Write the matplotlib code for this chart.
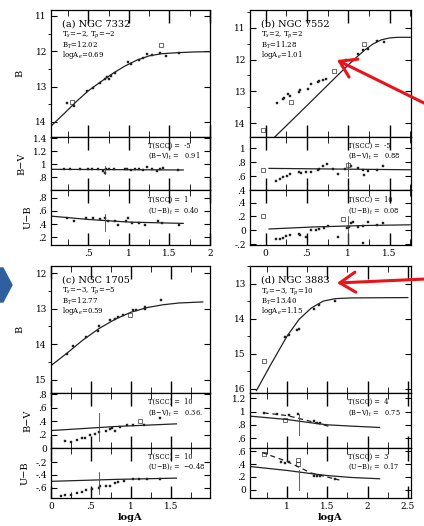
import matplotlib
matplotlib.use("Agg")
import matplotlib.pyplot as plt
from matplotlib.ticker import FuncFormatter, MultipleLocator
from matplotlib.patches import FancyArrowPatch, Polygon

W, H = 424, 526
plt.rcParams['font.family'] = 'DejaVu Serif'
plt.rcParams['mathtext.fontset'] = 'dejavuserif'

# ---------------- data ----------------
# (a) NGC 7332
a_B_x = [0.24, 0.32, 0.48, 0.56, 0.64, 0.71, 0.73, 0.75, 0.78, 0.83, 0.99, 1.02, 1.13, 1.17, 1.22, 1.28, 1.38, 1.46, 1.62]
a_B_y = [13.46, 13.54, 13.14, 13.03, 12.89, 12.78, 12.72, 12.8, 12.7, 12.63, 12.31, 12.35, 12.26, 12.2, 12.09, 12.1, 12.06, 12.14, 12.06]
a_B_open_x = [0.3, 1.4]
a_B_open_y = [13.45, 11.83]
a_fit_x = [0.05, 0.2, 0.35, 0.5, 0.65, 0.8, 0.95, 1.1, 1.25, 1.4, 1.6, 1.8, 2.0]
a_fit_y = [14.1, 13.77, 13.43, 13.12, 12.87, 12.63, 12.42, 12.25, 12.13, 12.07, 12.04, 12.02, 12.01]
a_BV_x = [0.2, 0.28, 0.4, 0.5, 0.55, 0.62, 0.68, 0.7, 0.72, 0.76, 0.82, 0.95, 0.98, 1.03, 1.08, 1.12, 1.18, 1.22, 1.28, 1.35, 1.38, 1.42, 1.6]
a_BV_y = [0.93, 0.93, 0.92, 0.93, 0.92, 0.92, 0.9, 0.87, 0.93, 0.92, 0.92, 0.92, 0.93, 0.91, 0.92, 0.93, 0.91, 0.95, 0.92, 0.9, 0.93, 0.94, 0.91]
a_BV_fit_x = [0.05, 1.67]
a_BV_fit_y = [0.92, 0.91]
a_UB_x = [0.24, 0.32, 0.47, 0.56, 0.64, 0.71, 0.74, 0.83, 0.86, 0.96, 0.99, 1.04, 1.12, 1.2, 1.36, 1.41, 1.62]
a_UB_y = [0.5, 0.44, 0.49, 0.49, 0.47, 0.5, 0.45, 0.45, 0.38, 0.45, 0.49, 0.41, 0.41, 0.38, 0.45, 0.41, 0.39]
a_UB_fit_x = [0.05, 0.5, 1.0, 1.67]
a_UB_fit_y = [0.52, 0.47, 0.43, 0.41]

# (b) NGC 7552
b_B_x = [0.14, 0.21, 0.22, 0.27, 0.3, 0.4, 0.42, 0.51, 0.55, 0.63, 0.65, 0.69, 0.73, 0.92, 0.99, 0.97, 1.06, 1.12, 1.18, 1.24, 1.35, 1.43]
b_B_y = [13.37, 13.25, 13.2, 13.1, 13.15, 13.02, 12.97, 12.94, 12.78, 12.72, 12.68, 12.65, 12.62, 12.19, 12.2, 12.0, 12.0, 11.84, 11.69, 11.67, 11.43, 11.46]
b_B_open_x = [-0.03, 0.31, 0.83, 1.19]
b_B_open_y = [14.21, 13.33, 12.36, 11.5]
b_fit_x = [0.11, 0.5, 0.8, 1.0, 1.1, 1.2, 1.3, 1.4, 1.5, 1.6, 1.75]
b_fit_y = [14.44, 13.45, 12.68, 12.17, 11.93, 11.7, 11.51, 11.38, 11.32, 11.3, 11.3]
b_BV_x = [0.13, 0.17, 0.21, 0.26, 0.3, 0.4, 0.43, 0.49, 0.55, 0.63, 0.64, 0.7, 0.74, 0.82, 0.87, 0.96, 1.03, 1.12, 1.18, 1.19, 1.24, 1.35, 1.42]
b_BV_y = [0.53, 0.56, 0.58, 0.6, 0.63, 0.66, 0.64, 0.66, 0.66, 0.69, 0.7, 0.75, 0.78, 0.7, 0.63, 0.7, 0.74, 0.71, 0.69, 0.61, 0.67, 0.69, 0.74]
b_BV_open_x = [-0.03, 1.0]
b_BV_open_y = [0.68, 0.76]
b_BV_fit_x = [0.04, 1.75]
b_BV_fit_y = [0.71, 0.69]
b_UB_x = [0.13, 0.17, 0.21, 0.25, 0.3, 0.4, 0.42, 0.49, 0.55, 0.61, 0.64, 0.71, 0.75, 0.87, 0.98, 1.01, 1.03, 1.06, 1.12, 1.18, 1.18, 1.24, 1.35, 1.42]
b_UB_y = [-0.13, -0.12, -0.11, -0.08, -0.07, -0.05, -0.06, -0.1, 0.0, 0.01, 0.02, 0.04, 0.06, -0.1, 0.03, 0.05, 0.11, 0.12, 0.05, 0.07, -0.18, 0.12, 0.08, 0.11]
b_UB_open_x = [-0.03, 0.94]
b_UB_open_y = [0.2, 0.16]
b_UB_fit_x = [0.04, 0.6, 1.2, 1.75]
b_UB_fit_y = [0.02, 0.05, 0.07, 0.08]

# (c) NGC 1705
c_B_x = [0.2, 0.28, 0.44, 0.59, 0.6, 0.74, 0.8, 0.84, 0.9, 1.03, 1.07, 1.18, 1.18, 1.38]
c_B_y = [14.26, 14.05, 13.79, 13.62, 13.49, 13.33, 13.3, 13.24, 13.17, 13.05, 13.03, 13.0, 12.95, 12.76]
c_B_open_x = [0.99]
c_B_open_y = [13.17]
c_fit_x = [0.0, 0.2, 0.4, 0.6, 0.8, 1.0, 1.2, 1.4, 1.6, 1.9]
c_fit_y = [14.6, 14.25, 13.88, 13.56, 13.3, 13.1, 12.97, 12.89, 12.84, 12.81]
c_BV_x = [0.18, 0.25, 0.32, 0.39, 0.43, 0.49, 0.55, 0.6, 0.69, 0.74, 0.76, 0.8, 0.86, 0.95, 1.03, 1.16, 1.37]
c_BV_y = [0.1, 0.09, 0.12, 0.15, 0.15, 0.19, 0.21, 0.24, 0.25, 0.29, 0.3, 0.26, 0.32, 0.34, 0.35, 0.35, 0.45]
c_BV_open_x = [1.11]
c_BV_open_y = [0.4]
c_BV_fit_x = [0.0, 0.8, 1.57]
c_BV_fit_y = [0.26, 0.32, 0.36]
c_UB_x = [0.12, 0.18, 0.25, 0.32, 0.39, 0.44, 0.51, 0.6, 0.61, 0.69, 0.74, 0.8, 0.84, 0.91, 1.03, 1.1, 1.2, 1.37]
c_UB_y = [-0.73, -0.71, -0.71, -0.68, -0.66, -0.64, -0.62, -0.6, -0.57, -0.58, -0.58, -0.52, -0.51, -0.5, -0.47, -0.47, -0.46, -0.47]
c_UB_fit_x = [0.0, 0.8, 1.57]
c_UB_fit_y = [-0.5, -0.47, -0.45]

# (d) NGC 3883
d_B_x = [0.97, 1.03, 1.13, 1.15, 1.33, 1.4, 1.6]
d_B_y = [14.52, 14.48, 14.31, 14.3, 13.72, 13.6, 13.5]
d_B_open_x = [0.71]
d_B_open_y = [15.22]
d_fit_x = [0.62, 0.8, 1.0, 1.15, 1.3, 1.45, 1.6, 1.8, 2.5]
d_fit_y = [16.05, 15.3, 14.5, 14.02, 13.7, 13.5, 13.43, 13.41, 13.4]
d_BV_x = [0.71, 0.87, 1.03, 1.14, 1.33, 1.37, 1.41]
d_BV_y = [0.98, 0.96, 0.95, 0.96, 0.85, 0.83, 0.82]
d_BV_open_x = [0.97]
d_BV_open_y = [0.88]
d_BV_fit_x = [0.55, 1.0, 1.3, 1.5, 1.8, 2.15]
d_BV_fit_y = [0.93, 0.88, 0.83, 0.8, 0.78, 0.76]
d_BV_dash_x = [0.71, 1.0, 1.3, 1.54]
d_BV_dash_y = [0.98, 0.94, 0.85, 0.77]
d_UB_x = [0.92, 0.97, 1.03, 1.33, 1.37, 1.41, 1.6]
d_UB_y = [0.43, 0.42, 0.43, 0.22, 0.22, 0.22, 0.17]
d_UB_open_x = [0.71, 1.14, 1.14]
d_UB_open_y = [0.55, 0.47, 0.4]
d_UB_fit_x = [0.55, 1.0, 1.3, 1.5, 1.8, 2.15]
d_UB_fit_y = [0.36, 0.3, 0.25, 0.22, 0.19, 0.17]
d_UB_dash_x = [0.69, 1.0, 1.3, 1.65]
d_UB_dash_y = [0.58, 0.44, 0.26, 0.15]

# error bars: (x, low, high)
a_err_BV = [(0.7, 0.84, 0.97)]
a_err_UB = [(0.7, 0.3, 0.56)]
b_err_BV = [(1.0, 0.6, 0.8)]
b_err_UB = [(1.0, -0.2, 0.2)]
c_err_BV = [(0.6, 0.1, 0.52)]
c_err_UB = [(0.6, -0.7, -0.35)]
d_err_BV = [(1.15, 0.64, 0.96)]
d_err_UB = [(1.15, 0.0, 0.31)]

# ---------------- layout ----------------
fig = plt.figure(figsize=(W / 100, H / 100), dpi=100)


def px_axes(l, t, r, b):
    return fig.add_axes([l / W, 1 - b / H, (r - l) / W, (b - t) / H])


def fmt(v, pos):
    s = ('%g' % round(v, 2))
    s = s.replace('0.', '.') if abs(v) < 1 else s
    return s


def style(ax, xlim, ylim, yticks, xticks, show_x, xlab=None):
    ax.set_xlim(*xlim)
    ax.set_ylim(*ylim)
    ax.set_yticks(yticks)
    ax.set_xticks(xticks)
    ax.xaxis.set_minor_locator(MultipleLocator(0.25))
    ax.yaxis.set_major_formatter(FuncFormatter(fmt))
    ax.xaxis.set_major_formatter(FuncFormatter(fmt))
    ax.tick_params(direction='in', top=True, right=True, labelsize=6.5, pad=3, width=0.8)
    ax.tick_params(axis='x', which='major', length=9, width=1.0)
    ax.tick_params(axis='x', which='minor', length=4, top=True, direction='in')
    ax.tick_params(axis='y', length=4)
    if not show_x:
        ax.tick_params(axis='x', labelbottom=False)
    for sp in ax.spines.values():
        sp.set_linewidth(0.9)
    if xlab:
        ax.set_xlabel(xlab, fontsize=7, labelpad=1, fontweight='bold')


def pts(ax, x, y, ox=None, oy=None):
    ax.plot(x, y, 's', ms=1.9, color='#222222', mec='#222222', mew=0.3)
    if ox:
        ax.plot(ox, oy, 's', ms=2.2, mfc='none', mec='#333333', mew=0.5)


def errs(ax, e):
    for x, lo, hi in e:
        ax.plot([x, x], [lo, hi], color='#444444', lw=0.6)


cols = {'L': (51, 210), 'R': (250, 411)}
top_rows = (10, 137, 190, 245)
bot_rows = (266, 393, 448, 498)

panels = [
    dict(col='L', rows=top_rows, xlim=(0.04, 2.0), xt=[0.5, 1, 1.5, 2],
         B=(a_B_x, a_B_y, a_B_open_x, a_B_open_y, a_fit_x, a_fit_y), Blim=(14.43, 10.83), Bt=[11, 12, 13, 14],
         BV=(a_BV_x, a_BV_y, None, None, a_BV_fit_x, a_BV_fit_y, None, None), BVlim=(0.6, 1.42), BVt=[0.8, 1, 1.2, 1.4],
         UB=(a_UB_x, a_UB_y, None, None, a_UB_fit_x, a_UB_fit_y, None, None), UBlim=(0.08, 0.92), UBt=[0.2, 0.4, 0.6, 0.8],
         eBV=a_err_BV, eUB=a_err_UB, ylab=True, xlab=None,
         title=['(a) NGC 7332', 'T$_s$=\u22122, T$_p$=\u22122', 'B$_T$=12.02', 'logA$_e$=0.69'],
         tsc=('-5', '0.91', '1', '0.40')),
    dict(col='R', rows=top_rows, xlim=(-0.19, 1.76), xt=[0, 0.5, 1, 1.5],
         B=(b_B_x, b_B_y, b_B_open_x, b_B_open_y, b_fit_x, b_fit_y), Blim=(14.44, 10.44), Bt=[11, 12, 13, 14],
         BV=(b_BV_x, b_BV_y, b_BV_open_x, b_BV_open_y, b_BV_fit_x, b_BV_fit_y, None, None), BVlim=(0.4, 1.16), BVt=[0.4, 0.6, 0.8, 1],
         UB=(b_UB_x, b_UB_y, b_UB_open_x, b_UB_open_y, b_UB_fit_x, b_UB_fit_y, None, None), UBlim=(-0.21, 0.58), UBt=[-0.2, 0, 0.2, 0.4],
         eBV=b_err_BV, eUB=b_err_UB, ylab=False, xlab=None,
         title=['(b) NGC 7552', 'T$_s$=2, T$_p$=2', 'B$_T$=11.28', 'logA$_e$=1.01'],
         tsc=('-5', '0.88', '10', '0.08')),
    dict(col='L', rows=bot_rows, xlim=(0.0, 1.99), xt=[0, 0.5, 1, 1.5],
         B=(c_B_x, c_B_y, c_B_open_x, c_B_open_y, c_fit_x, c_fit_y), Blim=(15.37, 11.8), Bt=[12, 13, 14, 15],
         BV=(c_BV_x, c_BV_y, c_BV_open_x, c_BV_open_y, c_BV_fit_x, c_BV_fit_y, None, None), BVlim=(0.0, 0.82), BVt=[0, 0.2, 0.4, 0.6, 0.8],
         UB=(c_UB_x, c_UB_y, None, None, c_UB_fit_x, c_UB_fit_y, None, None), UBlim=(-0.76, 0.02), UBt=[-0.6, -0.4, -0.2],
         eBV=c_err_BV, eUB=c_err_UB, ylab=True, xlab='logA',
         title=['(c) NGC 1705', 'T$_s$=\u22123, T$_p$=\u22125', 'B$_T$=12.77', 'logA$_e$=0.59'],
         tsc=('10', '0.36.', '10', '\u22120.48')),
    dict(col='R', rows=bot_rows, xlim=(0.54, 2.54), xt=[1, 1.5, 2, 2.5],
         B=(d_B_x, d_B_y, d_B_open_x, d_B_open_y, d_fit_x, d_fit_y), Blim=(16.12, 12.5), Bt=[13, 14, 15, 16],
         BV=(d_BV_x, d_BV_y, d_BV_open_x, d_BV_open_y, d_BV_fit_x, d_BV_fit_y, d_BV_dash_x, d_BV_dash_y), BVlim=(0.45, 1.28), BVt=[0.6, 0.8, 1, 1.2],
         UB=(d_UB_x, d_UB_y, d_UB_open_x, d_UB_open_y, d_UB_fit_x, d_UB_fit_y, d_UB_dash_x, d_UB_dash_y), UBlim=(-0.13, 0.65), UBt=[0, 0.2, 0.4, 0.6],
         eBV=d_err_BV, eUB=d_err_UB, ylab=False, xlab='logA',
         title=['(d) NGC 3883', 'T$_s$=\u22123, T$_p$=10', 'B$_T$=13.40', 'logA$_e$=1.15'],
         tsc=('4', '0.75', '3', '0.17')),
]

for p in panels:
    l, r = cols[p['col']]
    t0, t1, t2, t3 = p['rows']
    axB = px_axes(l, t0, r, t1)
    axV = px_axes(l, t1, r, t2)
    axU = px_axes(l, t2, r, t3)

    bx, by, box, boy, fx, fy = p['B']
    pts(axB, bx, by, box, boy)
    axB.plot(fx, fy, color='#222222', lw=0.9)
    style(axB, p['xlim'], p['Blim'], p['Bt'], p['xt'], False)
    axB.yaxis.set_minor_locator(MultipleLocator(0.5))

    for ax, key, lim, tk, ek in ((axV, 'BV', 'BVlim', 'BVt', 'eBV'), (axU, 'UB', 'UBlim', 'UBt', 'eUB')):
        x, y, ox, oy, fx, fy, dx, dy = p[key]
        pts(ax, x, y, ox, oy)
        ax.plot(fx, fy, color='#222222', lw=0.9)
        if dx:
            ax.plot(dx, dy, color='#222222', lw=0.9, ls=(0, (4, 3)))
        errs(ax, p[ek])
        style(ax, p['xlim'], p[lim], p[tk], p['xt'], ax is axU, p['xlab'] if ax is axU else None)

    if p['ylab']:
        axB.set_ylabel('B', fontsize=7, labelpad=8)
        axV.set_ylabel('B\u2212V', fontsize=7, labelpad=4)
        axU.set_ylabel('U\u2212B', fontsize=7, labelpad=4)

    # labels in B panel
    axB.text(0.07, 0.89, p['title'][0], transform=axB.transAxes, fontsize=7, va='center')
    for i, s in enumerate(p['title'][1:]):
        axB.text(0.07, 0.805 - i * 0.08, s, transform=axB.transAxes, fontsize=5.0, va='center')

    tv, bv, tu, bu = p['tsc']
    axV.text(0.61, 0.84, 'T(SCC) =  ' + tv, transform=axV.transAxes, fontsize=4.8, va='center')
    axV.text(0.61, 0.64, '(B\u2212V)$_t$ =   ' + bv, transform=axV.transAxes, fontsize=4.8, va='center')
    axU.text(0.61, 0.82, 'T(SCC) =  ' + tu, transform=axU.transAxes, fontsize=4.8, va='center')
    axU.text(0.61, 0.62, '(U\u2212B)$_t$ =  ' + bu, transform=axU.transAxes, fontsize=4.8, va='center')

# blue chevron on the left edge
chev = [(0, 268), (3, 268), (12, 285), (3, 302), (0, 302)]
fig.add_artist(Polygon([(x / W, 1 - y / H) for x, y in chev], closed=True,
                       transform=fig.transFigure, color='#2f5f9e'))

# red arrows
for (x0, y0), (x1, y1) in [((426, 104), (337, 60)), ((426, 279), (337, 283))]:
    fig.add_artist(FancyArrowPatch((x0 / W, 1 - y0 / H), (x1 / W, 1 - y1 / H),
                                   transform=fig.transFigure, color='#e8141a', lw=2.2,
                                   arrowstyle='->,head_length=0.7,head_width=0.45',
                                   mutation_scale=16, shrinkA=0, shrinkB=0))

fig.savefig('out.png', dpi=100)
